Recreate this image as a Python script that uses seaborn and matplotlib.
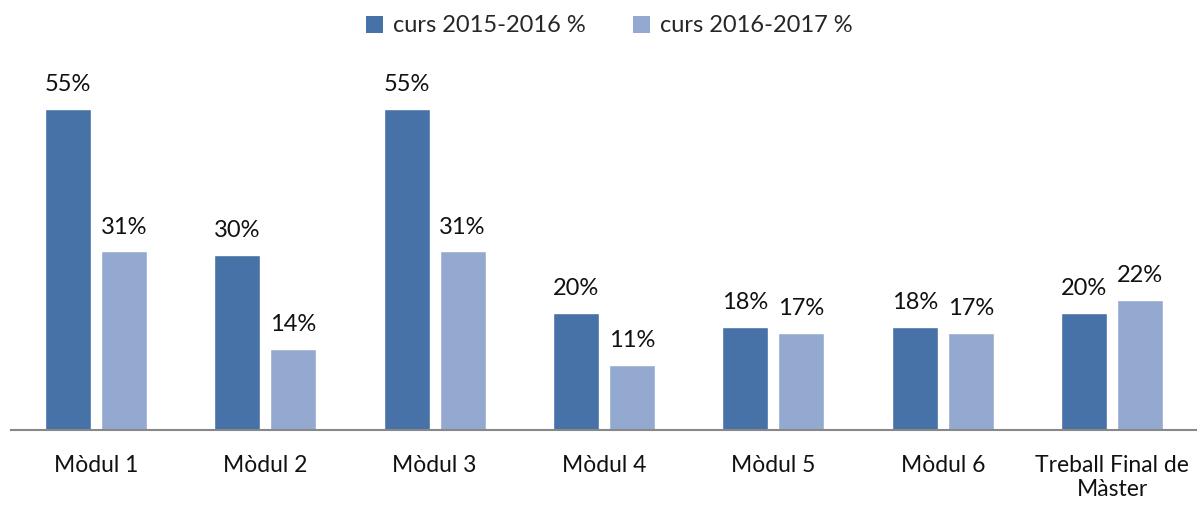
import matplotlib
matplotlib.use("Agg")
import matplotlib.pyplot as plt
import seaborn as sns
import pandas as pd

categories = ["Mòdul 1", "Mòdul 2", "Mòdul 3", "Mòdul 4", "Mòdul 5", "Mòdul 6", "Treball Final de\nMàster"]
series_names = ["curs 2015-2016 %", "curs 2016-2017 %"]
curs_2015_2016 = [55.0, 30.0, 55.0, 20.0, 17.6, 17.6, 20.0]
curs_2016_2017 = [30.6, 13.9, 30.6, 11.1, 16.6, 16.6, 22.3]
colors = ["#4672A7", "#94A9D0"]

df = pd.DataFrame({
    "cat": categories * 2,
    "val": curs_2015_2016 + curs_2016_2017,
    "curs": [series_names[0]] * len(categories) + [series_names[1]] * len(categories),
})

sns.set_theme(style="white")
plt.rcParams["font.family"] = ["Lato", "DejaVu Sans"]

fig = plt.figure(figsize=(11.97, 5.05), dpi=100)
ax = fig.add_axes([11 / 1197, 75 / 505, 1186 / 1197, 370 / 505])

sns.barplot(data=df, x="cat", y="val", hue="curs", palette=colors, width=0.661,
            gap=0.18, saturation=1, ax=ax, legend=False)

ax.set_xlim(-0.5, 6.5)
ax.set_ylim(0, 370 / 5.836)

for cont in ax.containers:
    ax.bar_label(cont, fmt="%.0f%%", padding=10, fontsize=17, color="#111111")

ax.set_xlabel("")
ax.set_ylabel("")
ax.set_yticks([])
ax.tick_params(axis="x", length=0, pad=18, labelsize=16.5, colors="#111111")
for s in ["top", "right", "left"]:
    ax.spines[s].set_visible(False)
ax.spines["bottom"].set_color("#888888")
ax.spines["bottom"].set_linewidth(1.5)

from matplotlib.patches import Patch
handles = [Patch(facecolor=c, edgecolor="none") for c in colors]
fig.legend(handles, series_names, loc="center", bbox_to_anchor=(609 / 1197, 1 - 26 / 505),
           ncol=2, frameon=False, fontsize=17, handlelength=0.75, handleheight=0.75,
           handletextpad=0.4, columnspacing=2.0)

fig.savefig("out.png", dpi=100)
